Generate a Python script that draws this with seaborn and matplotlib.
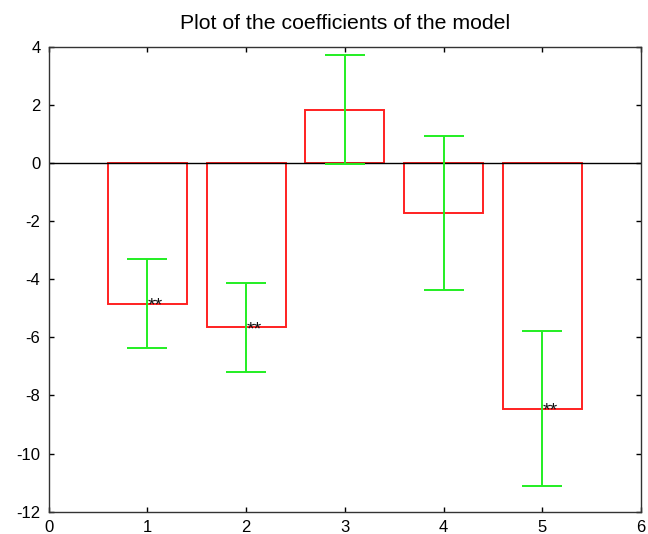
import matplotlib
matplotlib.use("Agg")
import matplotlib.pyplot as plt
import seaborn as sns
import pandas as pd

# Model coefficients with their error half-widths
terms = [1, 2, 3, 4, 5]
coefficients = [-4.84, -5.65, 1.83, -1.72, -8.45]
errors = [1.52, 1.53, 1.88, 2.65, 2.66]
significance = ["**", "**", "", "", "**"]

x_ticks = [0, 1, 2, 3, 4, 5, 6]
y_ticks = [4, 2, 0, -2, -4, -6, -8, -10, -12]

sns.set_style("ticks")
plt.rcParams["font.family"] = ["Liberation Sans", "DejaVu Sans"]
plt.rcParams["axes.unicode_minus"] = False

df = pd.DataFrame({"term": terms, "coef": coefficients})

fig = plt.figure(figsize=(6.48, 5.34), dpi=100)
ax = fig.add_axes([0.0753, 0.0418, 0.9139, 0.8708])

sns.barplot(data=df, x="term", y="coef", native_scale=True, fill=False,
            color="#ff0000", width=0.8, linewidth=1.4, errorbar=None, ax=ax)
for p in ax.patches:
    p.set_edgecolor("#ff2020")

ax.errorbar(terms, coefficients, yerr=errors, fmt="none", ecolor="#22ee22",
            elinewidth=1.4, capsize=14.6, capthick=1.4, zorder=3)

ax.axhline(0, color="black", linewidth=1.0, zorder=2)

# significance markers sit just above the end of each bar
for xv, yv, s in zip(terms, coefficients, significance):
    if s:
        ax.text(xv, yv - 0.25, s, ha="left", va="baseline", fontsize=14,
                color="#111111", zorder=4)

ax.set_xlim(0, 6)
ax.set_ylim(-12, 4)
ax.set_xticks(x_ticks)
ax.set_yticks(y_ticks)
ax.set_xlabel("")
ax.set_ylabel("")
ax.tick_params(direction="in", length=3.6, width=1, top=True, right=True,
               labeltop=False, labelright=False, labelsize=12, colors="black")
ax.tick_params(axis="x", pad=6)
ax.tick_params(axis="y", pad=6)
for sp in ax.spines.values():
    sp.set_visible(True)
    sp.set_linewidth(1.0)
    sp.set_color("#333333")

ax.set_title("Plot of the coefficients of the model", fontsize=15.3, pad=13,
             color="black")

fig.savefig("out.png", dpi=100)
